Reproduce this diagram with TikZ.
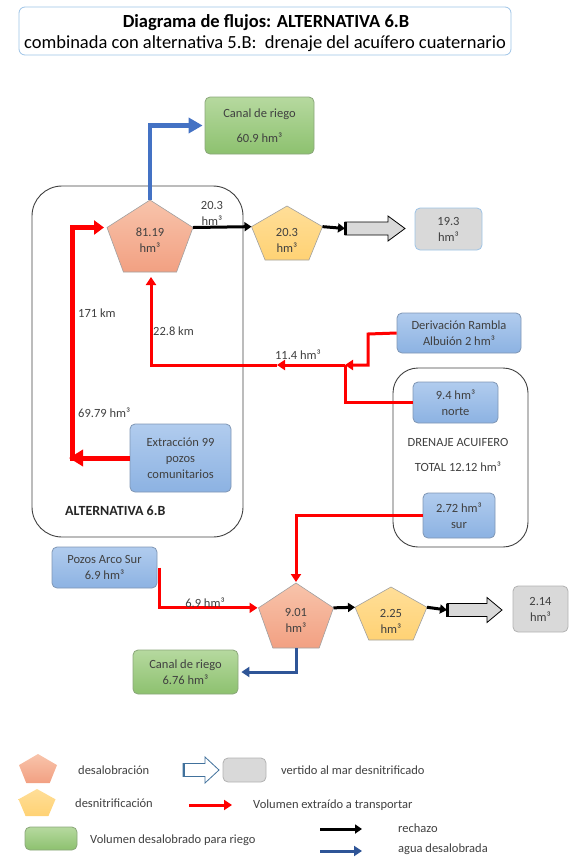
\documentclass[tikz,border=0pt]{standalone}
\usepackage{fontspec}
\setmainfont{Carlito}
\usetikzlibrary{arrows.meta}
\definecolor{txtc}{HTML}{404040}
\definecolor{salT}{HTML}{F8C4AB}
\definecolor{salB}{HTML}{F2A082}
\definecolor{yelT}{HTML}{FFDE98}
\definecolor{yelB}{HTML}{FFD274}
\definecolor{grnT}{HTML}{B6D99F}
\definecolor{grnB}{HTML}{8DC16F}
\definecolor{grnD}{HTML}{8AA67A}
\definecolor{bluT}{HTML}{B1CCEE}
\definecolor{bluB}{HTML}{8CB2E2}
\definecolor{bluD}{HTML}{7F96B4}
\definecolor{gryF}{HTML}{D9D9D9}
\definecolor{ltblue}{HTML}{9DC3E6}
\definecolor{pentD}{HTML}{A0A0A0}
\definecolor{rd}{HTML}{FF0000}
\definecolor{bluA}{HTML}{4472C4}
\definecolor{bluC}{HTML}{2F5597}
\definecolor{legB}{HTML}{41719C}
\newcommand\pent[6]{%
  \draw[#6] (#2,#3) coordinate (#1-t)
    -- ({#2+#4},{#3+0.382*#5}) coordinate (#1-r)
    -- ({#2+0.618*#4},{#3+#5})
    -- ({#2-0.618*#4},{#3+#5})
    -- ({#2-#4},{#3+0.382*#5}) coordinate (#1-l) -- cycle;
  \coordinate (#1-b) at (#2,{#3+#5});}
\newcommand\blockarr[5]{% name, x0, x1, xh, y
  \draw[fill=gryF, draw=black, line width=0.8pt] (#2,{#5-6.5}) coordinate (#1-in) -- (#4,{#5-6.5}) -- (#4,{#5-12.5}) -- (#3,#5) -- (#4,{#5+12.5}) -- (#4,{#5+6.5}) -- (#2,{#5+6.5}) -- cycle;
  \coordinate (#1) at (#2,#5);
  \draw[line width=3pt] ({#2+0.5},{#5-6.5}) -- ({#2+0.5},{#5+6.5});}
\begin{document}
\begin{tikzpicture}[x=1pt,y=-1pt,
  base/.style={font=\fontsize{12.5}{16}\selectfont, text=txtc, align=center, inner sep=0pt},
  lbl/.style={base},
  box/.style={base, rounded corners=5pt, line width=0.8pt},
  bluebox/.style={box, top color=bluT, bottom color=bluB, draw=bluD},
  greenbox/.style={box, top color=grnT, bottom color=grnB, draw=grnD},
  greybox/.style={box, fill=gryF},
  salpent/.style={top color=salT, bottom color=salB, draw=pentD, line width=0.6pt},
  yelpent/.style={top color=yelT, bottom color=yelB, draw=pentD, line width=0.6pt},
  redl/.style={draw=rd, line width=3pt},
  redarrow/.style={redl, -{Triangle[length=8pt,width=10pt]}},
  thickred/.style={draw=rd, line width=5pt, -{Triangle[length=14pt,width=16pt]}},
  blackarrow/.style={draw=black, line width=3pt, -{Triangle[length=7pt,width=9pt]}},
  bluetop/.style={draw=bluA, line width=4.5pt, -{Triangle[length=14pt,width=15pt]}},
  bluebot/.style={draw=bluC, line width=3pt, -{Triangle[length=8pt,width=10pt]}},
  frame/.style={draw=black!75, line width=0.9pt, rounded corners=30pt}
]
\useasboundingbox (0,0) rectangle (586,868);

% title
\draw[draw=ltblue, line width=0.8pt, rounded corners=6pt] (19,7) rectangle (511,55);
\node[font=\fontsize{18.5}{20}\selectfont\bfseries, text=black, inner sep=0pt] (t1) at (266,23) {Diagrama de flujos: ALTERNATIVA 6.B};
\node[font=\fontsize{18.5}{20}\selectfont, text=black, inner sep=0pt] (t2) at (265,43.5) {combinada con alternativa 5.B:\ \ drenaje del acuífero cuaternario};

% frames
\draw[frame] (32,186) rectangle (243,537);
\draw[frame, rounded corners=25pt] (393,368) rectangle (528,547);

% boxes
\node[greenbox, minimum width=109pt, minimum height=57pt] (canal1) at (259.5,125.5) {Canal de riego\\[9pt]60.9 hm³};
\node[greybox, draw=ltblue, minimum width=67pt, minimum height=42pt] (grey1) at (448.5,229) {19.3\\hm³};
\node[bluebox, minimum width=124pt, minimum height=40pt] (der) at (459,333) {Derivación Rambla\\Albuión 2 hm³};
\node[bluebox, minimum width=85pt, minimum height=41pt] (norte) at (455.5,402.5) {9.4 hm³\\norte};
\node[bluebox, minimum width=72pt, minimum height=45pt] (sur) at (459,515.5) {2.72 hm³\\sur};
\node[bluebox, minimum width=101pt, minimum height=68pt] (ext) at (180.5,458) {Extracción 99\\pozos\\comunitarios};
\node[bluebox, minimum width=105pt, minimum height=41pt] (pozos) at (104.5,567.5) {Pozos Arco Sur\\6.9 hm³};
\node[greenbox, minimum width=105pt, minimum height=44pt] (canal2) at (185.5,672) {Canal de riego\\6.76 hm³};
\node[greybox, draw=black!30, minimum width=55pt, minimum height=46pt] (grey2) at (540.5,609) {2.14\\hm³};

% pentagons
\pent{p1}{150}{200}{43}{72}{salpent}
\node[lbl] (p1txt) at (150,240) {81.19\\hm³};
\pent{y1}{287}{206}{35.5}{54}{yelpent}
\node[lbl] (y1txt) at (287,240) {20.3\\hm³};
\pent{p2}{296}{583}{37.5}{65}{salpent}
\node[lbl] (p2txt) at (296,620) {9.01\\hm³};
\pent{y2}{391}{587}{36}{53}{yelpent}
\node[lbl] (y2txt) at (391,621) {2.25\\hm³};

% block arrows
\blockarr{ba1}{345}{405}{388}{228.5}
\blockarr{ba2}{447}{502}{487}{610}

% black arrows
\draw[blackarrow] (p1-r) -- (y1-l);
\draw[blackarrow] (y1-r) -- (ba1);
\draw[blackarrow] (p2-r) -- (y2-l);
\draw[blackarrow] (y2-r) -- (ba2);
\node[lbl] (l203) at (212,213) {20.3\\hm³};

% blue arrows
\draw[bluetop, shorten >=2pt] (p1-t) |- (canal1.west);
\draw[bluebot, shorten >=3pt] (p2-b) |- (canal2.east);

% red flows
\coordinate (cb) at (69,458);
\coordinate (cv) at (72,460.5);
\draw[thickred] (ext.west) -- (cb);
\draw[draw=rd, line width=5pt, -{Triangle[length=10pt,width=14pt]}, shorten >=3pt] (cv) |- (p1-l);
\node[lbl, anchor=west] (k171) at (78,313) {171 km};
\node[lbl, anchor=west] (h6979) at (78,413) {69.79 hm³};

\coordinate (j1) at (345,365);
\coordinate (m1) at (277,365);
\coordinate (c1) at (151,365);
\draw[redarrow] (j1) -- (m1);
\draw[redarrow, shorten >=5pt] (m1) -- (c1) -- (p1-b -| c1);
\draw[redarrow] (der.west) -- (368,334) -- (368,365) -- (j1);
\draw[redl] (norte.west) -- (j1 |- norte.west) -- (j1);
\node[lbl] (h114) at (298,355) {11.4 hm³};
\node[lbl, anchor=west] (k228) at (153,331) {22.8 km};

\draw[redarrow, shorten >=1pt] (sur.west) -| (p2-t);
\draw[redarrow, shorten >=1pt] ([xshift=2pt]pozos.east) |- (p2-l);
\node[lbl] (h69) at (205,603) {6.9 hm³};

\node[lbl, anchor=west, text=black!85, font=\fontsize{14}{16}\selectfont\bfseries] (alt) at (65,511) {ALTERNATIVA 6.B};
\node[lbl] (dren) at (458,442) {DRENAJE ACUIFERO};
\node[lbl] (tot) at (458,467) {TOTAL 12.12 hm³};

% legend
\pent{lg1}{38}{754}{19}{29}{salpent, draw=none}
\node[lbl, anchor=west] (lt1) at (78,770) {desalobración};
\pent{lg2}{37}{789}{18.5}{27}{yelpent, draw=none}
\node[lbl, anchor=west] (lt2) at (75,803) {desnitrificación};
\node[greenbox, minimum width=52pt, minimum height=23pt] (lg3) at (51,838.5) {};
\node[lbl, anchor=west] (lt3) at (90,840) {Volumen desalobrado para riego};
\draw[fill=white, draw=legB, line width=0.8pt] (183,763.5) -- (205,763.5) -- (205,757) -- (219,770) -- (205,783) -- (205,776.5) -- (183,776.5) -- cycle;
\draw[draw=legB, line width=2.5pt] (184.2,763.5) -- (184.2,776.5);
\node[greybox, draw=black!30, minimum width=43pt, minimum height=24pt] (lg4) at (244.5,770) {};
\node[lbl, anchor=west] (lt4) at (281,770) {vertido al mar desnitrificado};
\coordinate (lr1) at (189,805);
\coordinate (lr2) at (232,805);
\draw[redarrow] (lr1) -- (lr2);
\node[lbl, anchor=west] (lt5) at (253,805) {Volumen extraído a transportar};
\coordinate (lb1) at (320,829);
\coordinate (lb2) at (362,829);
\draw[blackarrow] (lb1) -- (lb2);
\node[lbl, anchor=west] (lt6) at (398,828) {rechazo};
\coordinate (lc1) at (320,851);
\coordinate (lc2) at (362,851);
\draw[bluebot] (lc1) -- (lc2);
\node[lbl, anchor=west] (lt7) at (398,849) {agua desalobrada};
\end{tikzpicture}
\end{document}
